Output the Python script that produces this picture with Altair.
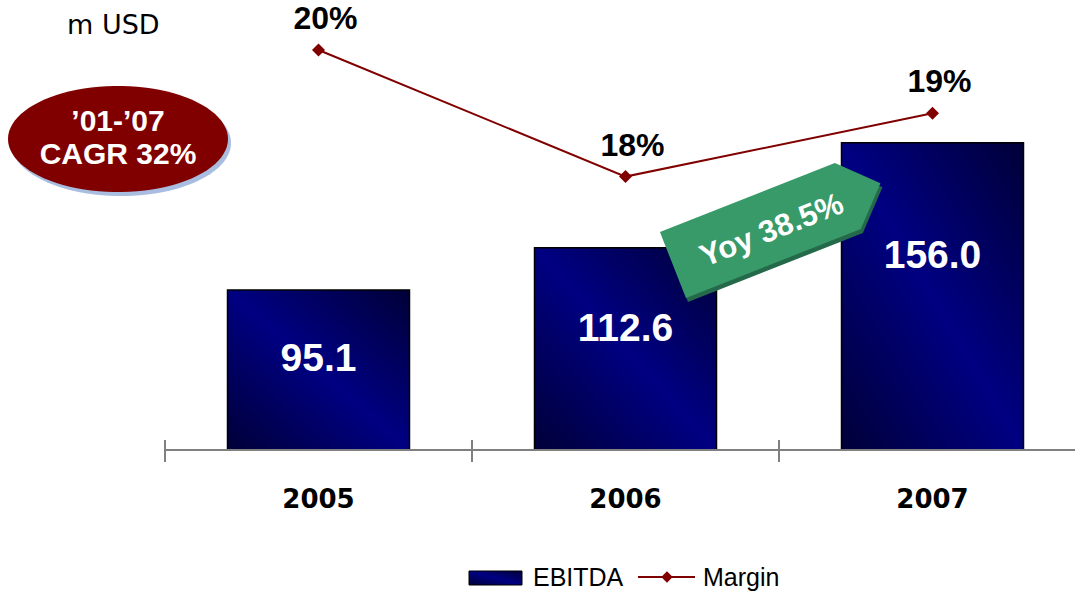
import math
import altair as alt
import pandas as pd

# ---------------- data ----------------
years = [2005, 2006, 2007]
ebitda = [95.1, 112.6, 156.0]
margin = [20, 18, 19]
ebitda_labels = ["95.1", "112.6", "156.0"]
margin_labels = ["20%", "18%", "19%"]
year_labels = ["2005", "2006", "2007"]
unit_label = "m USD"
cagr_lines = ["\u201901-\u201907", "CAGR 32%"]
yoy_label = "Yoy 38.5%"
legend_names = ["EBITDA", "Margin"]

# ---------------- layout ----------------
W, H = 910, 450
STEP = 307.0
X_DOM = [2004.5, 2004.5 + W / STEP]
Y_DOM = [28.94, 28.94 + H / 2.419]
M_DOM = [20 - 400 / 63.3, 20 + 50 / 63.3]
HALF = 0.2964
FONT = "Liberation Sans"
WIDE = "DejaVu Sans"

NAVY = "#000080"
MAROON = "#800000"
GREEN = "#379a68"

bar_grad = alt.Gradient(
    gradient="linear",
    stops=[
        alt.GradientStop(color="#000038", offset=0),
        alt.GradientStop(color="#000082", offset=0.5),
        alt.GradientStop(color="#000038", offset=1),
    ],
    x1=0, y1=1, x2=1, y2=0,
)

df = pd.DataFrame({
    "year": years,
    "ebitda": ebitda,
    "margin": margin,
    "elab": ebitda_labels,
    "mlab": margin_labels,
    "ylab": year_labels,
})

xs = alt.Scale(domain=X_DOM, nice=False, zero=False)
ys = alt.Scale(domain=Y_DOM, nice=False, zero=False)
ms = alt.Scale(domain=M_DOM, nice=False, zero=False)

base = alt.Chart(df)

bars = base.mark_bar(color=bar_grad, stroke="#000000", strokeWidth=1.5).transform_calculate(
    x0=f"datum.year - {HALF}", x1=f"datum.year + {HALF}"
).encode(
    x=alt.X("x0:Q", scale=xs, axis=None),
    x2="x1:Q",
    y=alt.Y("ebitda:Q", scale=ys, axis=None),
    y2=alt.datum(Y_DOM[0]),
)

bar_text = base.mark_text(
    font=FONT, fontSize=39, fontWeight="bold", color="white", baseline="middle"
).transform_calculate(ly="datum.ebitda * 0.7").encode(
    x=alt.X("year:Q", scale=xs, axis=None),
    y=alt.Y("ly:Q", scale=ys, axis=None),
    text="elab:N",
)

# axis line and ticks
axis_line = alt.Chart(pd.DataFrame({"a": [0]})).mark_rule(color="#808080", strokeWidth=2).encode(
    x=alt.value(0), x2=alt.value(W), y=alt.value(H)
)
ticks_df = pd.DataFrame({"b": [y - 0.5 for y in years]})
axis_ticks = alt.Chart(ticks_df).mark_rule(color="#808080", strokeWidth=2).encode(
    x=alt.X("b:Q", scale=xs, axis=None), y=alt.value(440), y2=alt.value(462)
)
year_text = base.mark_text(
    font=WIDE, fontSize=26, fontWeight="bold", color="black", baseline="middle"
).encode(
    x=alt.X("year:Q", scale=xs, axis=None), y=alt.value(500), text="ylab:N"
)

# margin line
mline = base.mark_line(color=MAROON, strokeWidth=2).encode(
    x=alt.X("year:Q", scale=xs, axis=None),
    y=alt.Y("margin:Q", scale=ms, axis=None),
)
mpts = base.mark_point(shape="diamond", filled=True, color=MAROON, opacity=1, size=170).encode(
    x=alt.X("year:Q", scale=xs, axis=None),
    y=alt.Y("margin:Q", scale=ms, axis=None),
)
mtext = base.mark_text(
    font=FONT, fontSize=32, fontWeight="bold", color="black", baseline="middle", dx=7, dy=-31
).encode(
    x=alt.X("year:Q", scale=xs, axis=None),
    y=alt.Y("margin:Q", scale=ms, axis=None),
    text="mlab:N",
)

one = alt.Chart(pd.DataFrame({"a": [0]}))

# "m USD"
unit = one.mark_text(font=WIDE, fontSize=27, color="black", align="left", baseline="middle").encode(
    x=alt.value(67 - 165), y=alt.value(26), text=alt.value(unit_label)
)

# CAGR ellipse
n = 90
pts = [(math.cos(2 * math.pi * i / n), 0.482 * math.sin(2 * math.pi * i / n)) for i in range(n)]
ell_path = "M " + " L ".join(f"{x:.4f} {y:.4f}" for x, y in pts) + " Z"
ell_shadow = one.mark_point(shape=ell_path, filled=True, color="#a9bde0", opacity=1, size=220 ** 2).encode(
    x=alt.value(118 - 165 + 3), y=alt.value(140 + 3)
)
ell = one.mark_point(shape=ell_path, filled=True, color=MAROON, opacity=1, size=220 ** 2).encode(
    x=alt.value(118 - 165), y=alt.value(139)
)
cagr_df = pd.DataFrame({"t": cagr_lines, "py": [122, 155]})
cagr_text = alt.Chart(cagr_df).mark_text(
    font=FONT, fontSize=30, fontWeight="bold", color="white", baseline="middle"
).encode(x=alt.value(118 - 165), y=alt.Y("py:Q", scale=None), text="t:N")

# Yoy arrow
arrow_path = "M -1 -0.318 L 0.686 -0.318 L 1 0 L 0.686 0.318 L -1 0.318 Z"
arrow_shadow = one.mark_point(shape=arrow_path, filled=True, color="#24694a", opacity=1,
                              size=223 ** 2, angle=338.5).encode(
    x=alt.value(776.7 - 165 + 2), y=alt.value(224.1 + 4)
)
arrow = one.mark_point(shape=arrow_path, filled=True, color=GREEN, opacity=1,
                       size=223 ** 2, angle=338.5).encode(
    x=alt.value(776.7 - 165), y=alt.value(224.1)
)
arrow_text = one.mark_text(font=FONT, fontSize=31, fontWeight="bold", color="white",
                           baseline="middle", angle=338.5).encode(
    x=alt.value(772 - 165), y=alt.value(231), text=alt.value(yoy_label)
)

# legend
leg_rect = one.mark_rect(color=bar_grad, stroke="#000000", strokeWidth=1).encode(
    x=alt.value(469 - 165), x2=alt.value(522 - 165), y=alt.value(571), y2=alt.value(585)
)
leg_line = one.mark_rule(color=MAROON, strokeWidth=2).encode(
    x=alt.value(638 - 165), x2=alt.value(695 - 165), y=alt.value(577)
)
leg_pt = one.mark_point(shape="diamond", filled=True, color=MAROON, opacity=1, size=130).encode(
    x=alt.value(667 - 165), y=alt.value(577)
)
leg_df = pd.DataFrame({"t": legend_names, "px": [533 - 165, 703 - 165]})
leg_text = alt.Chart(leg_df).mark_text(
    font=FONT, fontSize=25, color="black", align="left", baseline="middle"
).encode(x=alt.X("px:Q", scale=None), y=alt.value(578), text="t:N")

chart = alt.layer(
    bars, bar_text, axis_line, axis_ticks, year_text,
    arrow_shadow, arrow, arrow_text,
    mline, mpts, mtext,
    unit, ell_shadow, ell, cagr_text,
    leg_rect, leg_line, leg_pt, leg_text,
).resolve_scale(y="independent").properties(
    width=W, height=H,
    autosize=alt.AutoSizeParams(type="none"),
    padding={"left": 165, "top": 0, "right": 0, "bottom": 141},
    background="white",
).configure_view(stroke=None)

chart.save("out.html", embed_options={"renderer": "svg", "actions": False})
